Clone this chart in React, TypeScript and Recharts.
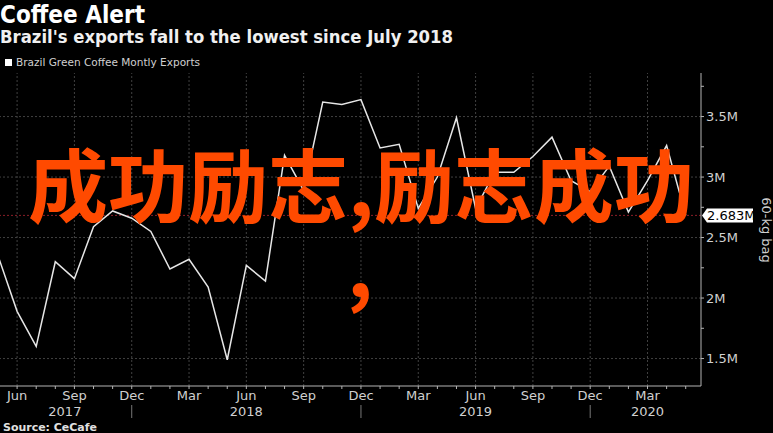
import { LineChart, Line, XAxis, YAxis, ReferenceLine } from 'recharts';

const periods = [
  '2017-05', '2017-06', '2017-07', '2017-08', '2017-09', '2017-10', '2017-11', '2017-12',
  '2018-01', '2018-02', '2018-03', '2018-04', '2018-05', '2018-06', '2018-07', '2018-08',
  '2018-09', '2018-10', '2018-11', '2018-12',
  '2019-01', '2019-02', '2019-03', '2019-04', '2019-05', '2019-06', '2019-07', '2019-08',
  '2019-09', '2019-10', '2019-11', '2019-12',
  '2020-01', '2020-02', '2020-03', '2020-04', '2020-05',
];

// monthly exports, million 60-kg bags
const exportsM = [
  2.35, 1.89, 1.6, 2.3, 2.16, 2.59, 2.72, 2.66,
  2.55, 2.24, 2.32, 2.09, 1.49, 2.27, 2.14, 3.18, 2.89, 3.62, 3.6, 3.64,
  3.24, 3.27, 2.74, 3.0, 3.49, 2.74, 3.04, 3.04, 3.17, 3.33, 2.97, 2.88,
  3.09, 2.71, 2.97, 3.26, 2.683,
];

const monthNames = ['Jan', 'Feb', 'Mar', 'Apr', 'May', 'Jun', 'Jul', 'Aug', 'Sep', 'Oct', 'Nov', 'Dec'];
const quarterMonths = [3, 6, 9, 12];
const yearLabels = ['2017', '2018', '2019', '2020'];
const yearTickIdx = [3.5, 13, 25, 34];
const yTicks = [1.5, 1.75, 2, 2.25, 2.5, 2.75, 3, 3.25, 3.5, 3.75];
const yMajor = [1.5, 2, 2.5, 3, 3.5];
const lastValue = exportsM[exportsM.length - 1];

const data = periods.map((p, i) => ({ i, value: exportsM[i] }));
const monthOf = (i: number) => Number(periods[i].slice(5));
const quarterIdx = data.filter((d) => quarterMonths.includes(monthOf(d.i))).map((d) => d.i);
const decIdx = data.filter((d) => monthOf(d.i) === 12).map((d) => d.i);

const FONT = 'DejaVu Sans, sans-serif';
const AXIS = '#b4b4b4';
const GRID = '#404040';

const fmtM = (v: number) => `${v}M`;

function MonthTick(props: any) {
  const { x, y, payload } = props;
  const i = payload.value;
  const m = monthOf(i);
  return (
    <g>
      <line x1={x} y1={y} x2={x} y2={y + 3} stroke={AXIS} />
      {quarterMonths.includes(m) && (
        <text x={x} y={y + 14} textAnchor="middle" fill="#d0d0d0" fontSize={13} fontFamily={FONT}>
          {monthNames[m - 1]}
        </text>
      )}
    </g>
  );
}

function YearTick(props: any) {
  const { x, y, payload } = props;
  const k = yearTickIdx.indexOf(payload.value);
  if (k < 0) {
    return <line x1={x} y1={y + 3} x2={x} y2={y + 16} stroke="#777" />;
  }
  return (
    <text x={x} y={y + 14} textAnchor="middle" fill="#d0d0d0" fontSize={13} fontFamily={FONT}>
      {yearLabels[k]}
    </text>
  );
}

function ValueTick(props: any) {
  const { x, y, payload } = props;
  const v = payload.value;
  return (
    <g>
      <line x1={x} y1={y} x2={x + 3} y2={y} stroke={AXIS} />
      {yMajor.includes(v) && (
        <text x={x + 5} y={y + 4.5} fill="#d0d0d0" fontSize={13} fontFamily={FONT}>
          {fmtM(v)}
        </text>
      )}
    </g>
  );
}

function LastLabel(props: any) {
  const { viewBox } = props;
  const x = viewBox.x + viewBox.width;
  const y = viewBox.y;
  return (
    <g>
      <polygon
        points={`${x + 1},${y} ${x + 6},${y - 7} ${x + 52},${y - 7} ${x + 52},${y + 7} ${x + 6},${y + 7}`}
        fill="#ffffff"
      />
      <text x={x + 6} y={y + 4.5} fill="#000" fontSize={13} fontFamily={FONT}>
        {fmtM(lastValue)}
      </text>
    </g>
  );
}

export default function App() {
  return (
    <div style={{ position: 'fixed', top: 0, left: 0, width: 773, height: 433, background: '#000', overflow: 'hidden' }}>
      <div style={{ position: 'absolute', left: -2, top: 0 }}>
        <LineChart width={775} height={433} data={data} margin={{ top: 73, right: 0, bottom: 11, left: 0 }}>
          <XAxis
            dataKey="i"
            type="number"
            domain={[0, 36.8]}
            ticks={data.map((d) => d.i)}
            interval={0}
            tickSize={0}
            tickMargin={0}
            tickLine={false}
            axisLine={{ stroke: AXIS }}
            tick={<MonthTick />}
            height={16}
            allowDataOverflow
          />
          <XAxis
            xAxisId="year"
            dataKey="i"
            type="number"
            domain={[0, 36.8]}
            ticks={[...yearTickIdx, ...decIdx]}
            interval={0}
            tickSize={0}
            tickMargin={0}
            tickLine={false}
            axisLine={false}
            tick={<YearTick />}
            height={20}
          />
          <YAxis
            orientation="right"
            type="number"
            domain={[1.273, 3.86]}
            ticks={yTicks}
            interval={0}
            tickSize={0}
            tickMargin={0}
            tickLine={false}
            axisLine={{ stroke: AXIS }}
            tick={<ValueTick />}
            width={72}
            allowDataOverflow
          />
          {quarterIdx.map((i) => (
            <ReferenceLine key={`vx${i}`} x={i} stroke={GRID} strokeDasharray="2 2" />
          ))}
          {yMajor.map((v) => (
            <ReferenceLine key={`hy${v}`} y={v} stroke={GRID} strokeDasharray="2 2" />
          ))}
          <ReferenceLine y={lastValue} stroke="#8a1e28" strokeDasharray="2 2" label={<LastLabel />} />
          <Line
            dataKey="value"
            stroke="#e6e6e6"
            strokeWidth={1.5}
            dot={false}
            isAnimationActive={false}
          />
        </LineChart>
      </div>
      <svg width={773} height={433} style={{ position: 'absolute', left: 0, top: 0, pointerEvents: 'none' }}>
        <text x={0} y={23} fill="#fff" fontSize={25} fontWeight="bold" fontFamily={FONT} textLength={145} lengthAdjust="spacingAndGlyphs">
          Coffee Alert
        </text>
        <text x={0} y={43} fill="#f0f0f0" fontSize={18} fontWeight="bold" fontFamily={FONT} textLength={453} lengthAdjust="spacingAndGlyphs">
          Brazil's exports fall to the lowest since July 2018
        </text>
        <rect x={5} y={59} width={7} height={7} fill="#fff" />
        <text x={16} y={66} fill="#d0d0d0" fontSize={11} fontFamily={FONT} textLength={184} lengthAdjust="spacingAndGlyphs">
          Brazil Green Coffee Montly Exports
        </text>
        <text x={762} y={230} fill="#d0d0d0" fontSize={13} fontFamily={FONT} textAnchor="middle" transform="rotate(90 762 230)">
          60-kg bag
        </text>
        <text x={3} y={431} fill="#e0e0e0" fontSize={11} fontWeight="bold" fontFamily={FONT} textLength={94} lengthAdjust="spacingAndGlyphs">
          Source: CeCafe
        </text>
        <text x={361} y={216} fill="#ff4a00" fontSize={80} fontWeight="bold" fontFamily="'Noto Sans CJK SC', sans-serif" textAnchor="middle">
          成功励志,励志成功
        </text>
        <text x={360} y={297} fill="#ff4a00" fontSize={80} fontWeight="bold" fontFamily="'Noto Sans CJK SC', sans-serif" textAnchor="middle">
          ,
        </text>
      </svg>
    </div>
  );
}
